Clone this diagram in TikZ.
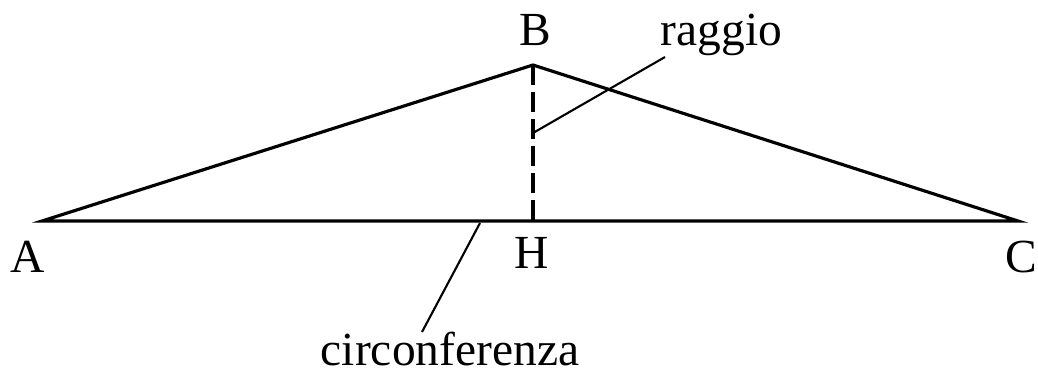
\documentclass[tikz,border=0pt]{standalone}
\usepackage{fontspec}
\setmainfont{Liberation Serif}
\usetikzlibrary{calc,positioning}

\tikzset{
  lato/.style={line width=0.9pt, line join=miter},
  altezza/.style={line width=0.9pt, dash pattern=on 0.2cm off 0.07cm},
  richiamo/.style={line width=0.6pt},
  etichetta/.style={inner sep=0pt, anchor=base, font=\fontsize{13.5}{16}\selectfont}
}

\begin{document}
\begin{tikzpicture}[x=0.01cm, y=-0.01cm]
          \useasboundingbox (0,0) rectangle (1038,372);
          % vertices
          \coordinate (A) at (42,221);
          \coordinate (B) at (533,65);
          \coordinate (C) at (1018,221);
          \coordinate (H) at (533,221);
          % Draw the triangle
          \draw[lato] (A) -- (B) -- (C) -- cycle;
          % height
          \draw[altezza] (B) -- (H);
          % labels
          \node[etichetta] (lA) at (28,272) {A};
          \node[etichetta] (lB) at (535,45) {B};
          \node[etichetta] (lC) at (1021,272) {C};
          \node[etichetta] (lH) at (532,268) {H};
          \node[etichetta, anchor=base west] (lraggio) at (660,45) {raggio};
          \node[etichetta] (lcirc) at (450,365) {circonferenza};
          % leaders
          \coordinate (pr) at (533,133);
          \coordinate (qr) at (665,57);
          \coordinate (pc) at (480,223);
          \coordinate (qc) at (422,332);
          \draw[richiamo] (pr) -- (qr);
          \draw[richiamo] (pc) -- (qc);
        \end{tikzpicture}
\end{document}
